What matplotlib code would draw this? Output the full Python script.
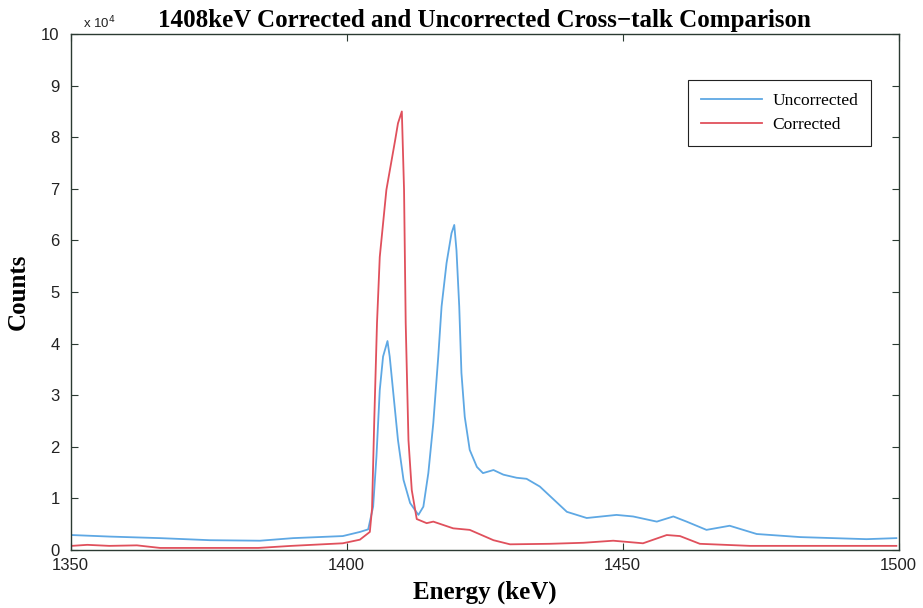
import matplotlib
matplotlib.use("Agg")
import matplotlib.pyplot as plt
from matplotlib.ticker import FuncFormatter

# Data (energy in keV, counts in thousands)
blue_energy = [1350.2, 1357.1, 1366.2, 1375.2, 1384.3, 1390.3, 1399.3, 1402.4, 1403.9,
               1404.8, 1405.4, 1406.0, 1406.6, 1407.4, 1407.8, 1408.4, 1409.3, 1410.3,
               1411.5, 1413.0, 1413.9, 1414.8, 1415.7, 1416.6, 1417.2, 1418.1, 1419.0,
               1419.5, 1419.9, 1420.4, 1420.8, 1421.4, 1422.3, 1423.6, 1424.7, 1426.6,
               1428.4, 1430.8, 1432.6, 1435.0, 1439.9, 1443.5, 1448.9, 1451.9, 1456.2,
               1459.2, 1461.6, 1465.2, 1469.4, 1474.3, 1482.2, 1494.2, 1499.6]
blue_counts_k = [2.9, 2.6, 2.3, 1.9, 1.8, 2.3, 2.7, 3.5, 4.0,
                 8.4, 18.1, 31.0, 37.5, 40.5, 37.5, 31.0, 21.3, 13.6,
                 9.1, 6.8, 8.4, 14.9, 24.6, 37.5, 47.2, 55.6, 61.4,
                 63.0, 58.1, 47.2, 34.3, 25.8, 19.4, 16.1, 14.9, 15.5,
                 14.6, 14.0, 13.8, 12.3, 7.4, 6.2, 6.8, 6.5, 5.5,
                 6.5, 5.5, 3.9, 4.7, 3.1, 2.5, 2.1, 2.3]

red_energy = [1350.2, 1353.0, 1357.0, 1362.0, 1366.2, 1375.0, 1384.0, 1390.0, 1399.3,
              1402.4, 1404.2, 1404.6, 1405.0, 1405.5, 1406.0, 1407.2, 1408.8, 1409.3,
              1410.0, 1410.4, 1410.7, 1411.2, 1411.8, 1412.7, 1414.5, 1415.7, 1419.3,
              1422.3, 1426.6, 1429.6, 1436.8, 1442.9, 1448.3, 1453.7, 1458.0, 1460.4,
              1464.0, 1473.1, 1499.6]
red_counts_k = [0.8, 1.0, 0.8, 0.9, 0.4, 0.4, 0.4, 0.8, 1.3,
                2.0, 3.5, 8.0, 25.0, 44.0, 56.8, 69.8, 79.5, 82.7,
                85.0, 69.8, 44.0, 21.3, 11.6, 6.0, 5.2, 5.5, 4.2,
                3.9, 1.9, 1.1, 1.2, 1.4, 1.8, 1.3, 2.9, 2.7,
                1.2, 0.8, 0.8]

series_labels = ["Uncorrected", "Corrected"]
title = "1408keV Corrected and Uncorrected Cross\u2212talk Comparison"
x_ticks = [1350, 1400, 1450, 1500]
y_ticks_1e4 = list(range(0, 11))

blue_counts = [v * 1000 for v in blue_counts_k]
red_counts = [v * 1000 for v in red_counts_k]

fig = plt.figure(figsize=(9.23, 6.08), dpi=100)
ax = fig.add_axes([0.0766, 0.0954, 0.8969, 0.8486])

axis_col = "#2b3a32"
ax.plot(blue_energy, blue_counts, color="#5ea8e4", lw=1.3, label=series_labels[0])
ax.plot(red_energy, red_counts, color="#e0505c", lw=1.3, label=series_labels[1])

ax.set_xlim(1350, 1500)
ax.set_ylim(0, 100000)
ax.set_xticks(x_ticks)
ax.set_yticks([t * 1e4 for t in y_ticks_1e4])
ax.yaxis.set_major_formatter(FuncFormatter(lambda v, p: f"{int(round(v / 1e4))}"))
ax.tick_params(direction="in", top=True, right=True, length=5, width=0.8,
               colors=axis_col, labelsize=12, labelcolor="#222222")
ax.tick_params(axis="x", pad=6)
ax.tick_params(axis="y", pad=8)
for lab in ax.get_xticklabels() + ax.get_yticklabels():
    lab.set_family("Liberation Sans")
for s in ax.spines.values():
    s.set_color(axis_col)
    s.set_linewidth(1.0)

ax.text(0.015, 1.006, r"x 10$^4$", transform=ax.transAxes, fontsize=9.5,
        family="Liberation Sans", color="#222222", ha="left", va="bottom")

ax.set_title(title, family="Liberation Serif", fontweight="bold", fontsize=18, pad=5)
ax.set_xlabel("Energy (keV)", family="Liberation Serif", fontweight="bold", fontsize=18, labelpad=5)
ax.set_ylabel("Counts", family="Liberation Serif", fontweight="bold", fontsize=18, labelpad=8)

leg = ax.legend(loc="upper right", bbox_to_anchor=(871 / 923, 1 - 80 / 608),
                bbox_transform=fig.transFigure, borderaxespad=0,
                prop={"family": "Liberation Serif", "size": 12.5},
                fancybox=False, edgecolor="#222222", framealpha=1, handlelength=3.5,
                borderpad=0.75, labelspacing=0.45, handletextpad=0.6)
leg.get_frame().set_linewidth(0.8)

fig.savefig("out.png", dpi=100, facecolor="white")
